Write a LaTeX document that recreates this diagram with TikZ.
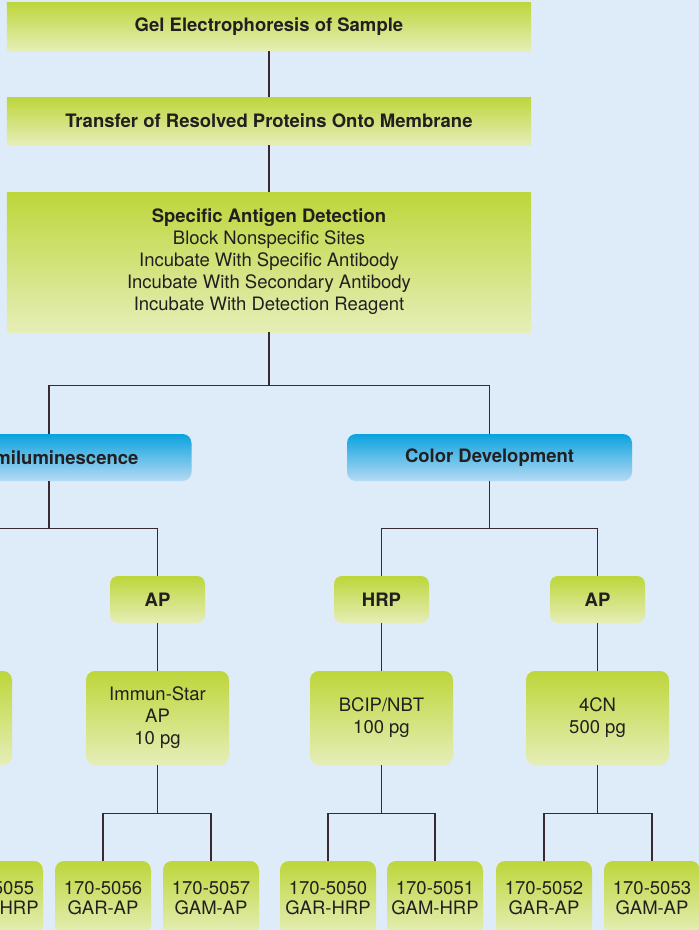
\documentclass[tikz,border=0pt]{standalone}
\usepackage{fontspec}
\setmainfont{TeX Gyre Heros}

\definecolor{paper}{HTML}{DDECF8}
\definecolor{limetop}{HTML}{BDD63A}
\definecolor{limebot}{HTML}{E6EEB8}
\definecolor{skytop}{HTML}{0AA2DF}
\definecolor{skybot}{HTML}{B6DAF3}
\definecolor{ink}{HTML}{231F20}
\definecolor{wire}{HTML}{3A2A2F}

\begin{document}
\begin{tikzpicture}[x=10pt,y=-10pt,
    every node/.style={text=ink,align=center,inner sep=0pt,font=\fontsize{18.5}{22}\selectfont},
    stagebox/.style={rectangle,top color=limetop,bottom color=limebot,minimum width=524pt},
    methodbox/.style={rectangle,rounded corners=9pt,top color=skytop,bottom color=skybot,minimum width=285pt,minimum height=47pt},
    enzbox/.style={rectangle,rounded corners=8pt,top color=limetop,bottom color=limebot,minimum width=95pt,minimum height=47pt},
    kitbox/.style={rectangle,rounded corners=9pt,top color=limetop,bottom color=limebot,minimum width=143pt,minimum height=94pt},
    catbox/.style={rectangle,rounded corners=9pt,top color=limetop,bottom color=limebot,minimum width=96pt,minimum height=74pt,font=\fontsize{18.5}{20.7}\selectfont},
    link/.style={draw=wire,line width=1.3pt}]
    \useasboundingbox (0, 0) rectangle (69.9, 93);
    \clip (0, 0) rectangle (69.9, 93);
    \fill[paper] (0, 0) rectangle (69.9, 93);

    % Protocol steps
    \node at (26.9, 2.65) [stagebox,minimum height=49pt] (gel) {\textbf{Gel Electrophoresis of Sample}};
    \node at (26.9, 12.1) [stagebox,minimum height=48pt] (transfer) {\textbf{Transfer of Resolved Proteins Onto Membrane}};
    \node at (26.9, 26.2) [stagebox,minimum height=140pt] (antigen) {\textbf{Specific Antigen Detection}\\Block Nonspecific Sites\\Incubate With Specific Antibody\\Incubate With Secondary Antibody\\Incubate With Detection Reagent};

    % Detection methods
    \node at (4.9, 45.75) [methodbox] (chemi) {\textbf{Chemiluminescence}};
    \node at (48.95, 45.75) [methodbox] (color) {\textbf{Color Development}};

    % Enzyme nodes
    \coordinate (hrpA) at (-5.9, 57.6);
    \node at (15.75, 59.95) [enzbox] (apA) {\textbf{AP}};
    \node at (38.15, 59.95) [enzbox] (hrpB) {\textbf{HRP}};
    \node at (59.75, 59.95) [enzbox] (apB) {\textbf{AP}};

    % Substrate nodes
    \node at (-5.95, 71.8) [kitbox] (subA) {};
    \node at (15.75, 71.8) [kitbox] (immun) {Immun-Star\\AP\\10 pg};
    \node at (38.15, 71.8) [kitbox] (bcip) {BCIP/NBT\\100 pg};
    \node at (59.75, 71.8) [kitbox] (fourcn) {4CN\\500 pg};

    % Conjugate nodes
    \node at (-0.5, 89.8) [catbox] (c5055) {170-5055\\GAM-HRP};
    \node at (10.3, 89.8) [catbox] (c5056) {170-5056\\GAR-AP};
    \node at (21.1, 89.8) [catbox] (c5057) {170-5057\\GAM-AP};
    \node at (32.8, 89.8) [catbox] (c5050) {170-5050\\GAR-HRP};
    \node at (43.5, 89.8) [catbox] (c5051) {170-5051\\GAM-HRP};
    \node at (54.4, 89.8) [catbox] (c5052) {170-5052\\GAR-AP};
    \node at (65.2, 89.8) [catbox] (c5053) {170-5053\\GAM-AP};

    % Step links
    \draw[link] (gel) to (transfer);
    \draw[link] (transfer) to (antigen);
    \draw[link] (antigen.south) -- ++(0, 5.3) -| (chemi.north);
    \draw[link] (antigen.south) -- ++(0, 5.3) -| (color.north);

    % Branch links
    \draw[link] (chemi.south) -- ++(0, 4.7) -| (hrpA);
    \draw[link] (chemi.south) -- ++(0, 4.7) -| (apA.north);
    \draw[link] (color.south) -- ++(0, 4.7) -| (hrpB.north);
    \draw[link] (color.south) -- ++(0, 4.7) -| (apB.north);
    \draw[link] (apA) to (immun);
    \draw[link] (hrpB) to (bcip);
    \draw[link] (apB) to (fourcn);
    \draw[link] (immun.south) -- ++(0, 4.8) -| (c5056.north);
    \draw[link] (immun.south) -- ++(0, 4.8) -| (c5057.north);
    \draw[link] (bcip.south) -- ++(0, 4.8) -| (c5050.north);
    \draw[link] (bcip.south) -- ++(0, 4.8) -| (c5051.north);
    \draw[link] (fourcn.south) -- ++(0, 4.8) -| (c5052.north);
    \draw[link] (fourcn.south) -- ++(0, 4.8) -| (c5053.north);
\end{tikzpicture}
\end{document}
